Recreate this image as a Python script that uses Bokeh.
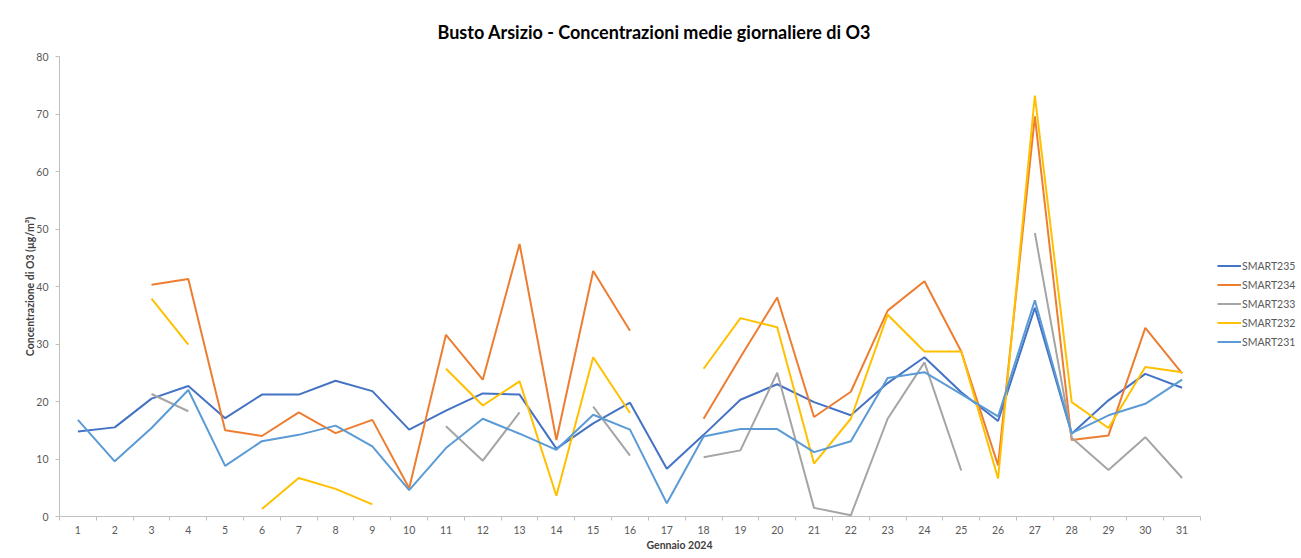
import numpy as np
from bokeh.plotting import figure
from bokeh.models import FixedTicker, Legend, LegendItem, Title
from bokeh.embed import file_html
from bokeh.resources import INLINE

nan = np.nan
days = list(range(1, 32))
day_labels = [str(d) for d in days]

smart235 = [14.8, 15.5, 20.5, 22.7, 17.1, 21.2, 21.2, 23.6, 21.8, 15.1,
            18.4, 21.4, 21.2, 11.8, 16.2, 19.8, 8.3, 14.2, 20.3, 23.0,
            19.9, 17.6, 23.2, 27.7, 21.6, 16.6, 36.3, 14.4, 20.2, 24.8, 22.4]
smart234 = [nan, nan, 40.3, 41.3, 15.0, 14.0, 18.1, 14.5, 16.8, 4.9,
            31.6, 23.8, 47.4, 13.3, 42.7, 32.3, nan, 17.0, 27.7, 38.1,
            17.3, 21.7, 35.8, 40.9, 28.7, 8.9, 69.6, 13.3, 14.1, 32.8, 24.9]
smart233 = [nan, nan, 21.3, 18.3, nan, nan, nan, nan, nan, nan,
            15.7, 9.7, 18.1, nan, 19.1, 10.6, nan, 10.3, 11.5, 25.0,
            1.5, 0.2, 17.0, 26.8, 8.0, nan, 49.3, 13.7, 8.1, 13.8, 6.7]
smart232 = [nan, nan, 37.9, 29.9, nan, 1.3, 6.7, 4.8, 2.1, nan,
            25.7, 19.3, 23.5, 3.6, 27.7, 18.0, nan, 25.7, 34.5, 32.9,
            9.2, 17.0, 35.1, 28.7, 28.7, 6.6, 73.2, 19.9, 15.4, 26.0, 25.1]
smart231 = [16.8, 9.6, 15.4, 22.0, 8.8, 13.1, 14.2, 15.8, 12.2, 4.6,
            11.9, 17.0, 14.4, 11.6, 17.7, 15.1, 2.3, 13.9, 15.2, 15.2,
            11.2, 13.1, 24.1, 25.1, 21.3, 17.4, 37.6, 14.5, 17.6, 19.6, 23.8]

series_names = ["SMART235", "SMART234", "SMART233", "SMART232", "SMART231"]
series_values = [smart235, smart234, smart233, smart232, smart231]
colors = ["#4472C4", "#ED7D31", "#A5A5A5", "#FFC000", "#5B9BD5"]

y_ticks = [0, 10, 20, 30, 40, 50, 60, 70, 80]

FONT = "Lato"
TXT = "#595959"

# plotting frame extends under the legend; axis is bounded to the 31 days
FIG_W = 1300
BORDER_L = 59
BORDER_R = 1
AXIS_PX = 1141  # width used by the 31 categories
frame_w = FIG_W - BORDER_L - BORDER_R
x_end = 0.5 + frame_w * 31 / AXIS_PX

p = figure(width=FIG_W, height=555, x_range=(0.5, x_end), y_range=(0, 80),
           output_backend="svg", toolbar_location=None,
           min_border_left=BORDER_L, min_border_right=BORDER_R,
           min_border_top=56, min_border_bottom=39)

p.title = Title(text="Busto Arsizio - Concentrazioni medie giornaliere di O3",
                align="left", offset=378, text_font=FONT,
                text_font_size="18px", text_font_style="bold",
                text_color="#000000", standoff=27)

p.xgrid.visible = False
p.ygrid.visible = False
p.outline_line_color = None
p.background_fill_color = "white"
p.border_fill_color = "white"

xax = p.xaxis[0]
xax.bounds = (0.5, 31.5)
xax.ticker = FixedTicker(ticks=days, minor_ticks=[d + 0.5 for d in [0] + days])
xax.major_label_overrides = {d: l for d, l in zip(days, day_labels)}
xax.major_tick_line_color = None
xax.minor_tick_out = 4
xax.minor_tick_in = 0
xax.minor_tick_line_color = "#bfbfbf"
xax.axis_line_color = "#bfbfbf"
xax.axis_line_width = 1
xax.major_label_text_font = FONT
xax.major_label_text_font_size = "10.5px"
xax.major_label_text_color = TXT
xax.major_label_standoff = 3
xax.axis_label = "Gennaio 2024"
xax.axis_label_text_font = FONT
xax.axis_label_text_font_size = "10.5px"
xax.axis_label_text_font_style = "bold"
xax.axis_label_text_color = "#404040"
xax.axis_label_standoff = 2

yax = p.yaxis[0]
yax.ticker = FixedTicker(ticks=y_ticks)
yax.minor_tick_line_color = None
yax.major_tick_out = 4
yax.major_tick_in = 0
yax.major_tick_line_color = "#bfbfbf"
yax.axis_line_color = "#bfbfbf"
yax.major_label_text_font = FONT
yax.major_label_text_font_size = "10.5px"
yax.major_label_text_color = TXT
yax.major_label_standoff = 7
yax.axis_label = "Concentrazione di O3 (µg/m³)"
yax.axis_label_text_font = FONT
yax.axis_label_text_font_size = "10.5px"
yax.axis_label_text_font_style = "bold"
yax.axis_label_text_color = "#404040"
yax.axis_label_standoff = -3

items = []
for name, vals, c in zip(series_names, series_values, colors):
    r = p.line(days, np.array(vals, dtype=float), line_color=c, line_width=2)
    items.append(LegendItem(label=name, renderers=[r]))

legend = Legend(items=items, location=(1158, 165), orientation="vertical",
                glyph_width=24, glyph_height=19, label_height=19, spacing=0,
                padding=0, margin=0, label_standoff=1,
                label_text_font=FONT, label_text_font_size="10.5px",
                label_text_color=TXT, border_line_color=None,
                background_fill_alpha=0)
p.add_layout(legend, "center")

open("out.html", "w").write(file_html(p, INLINE))
